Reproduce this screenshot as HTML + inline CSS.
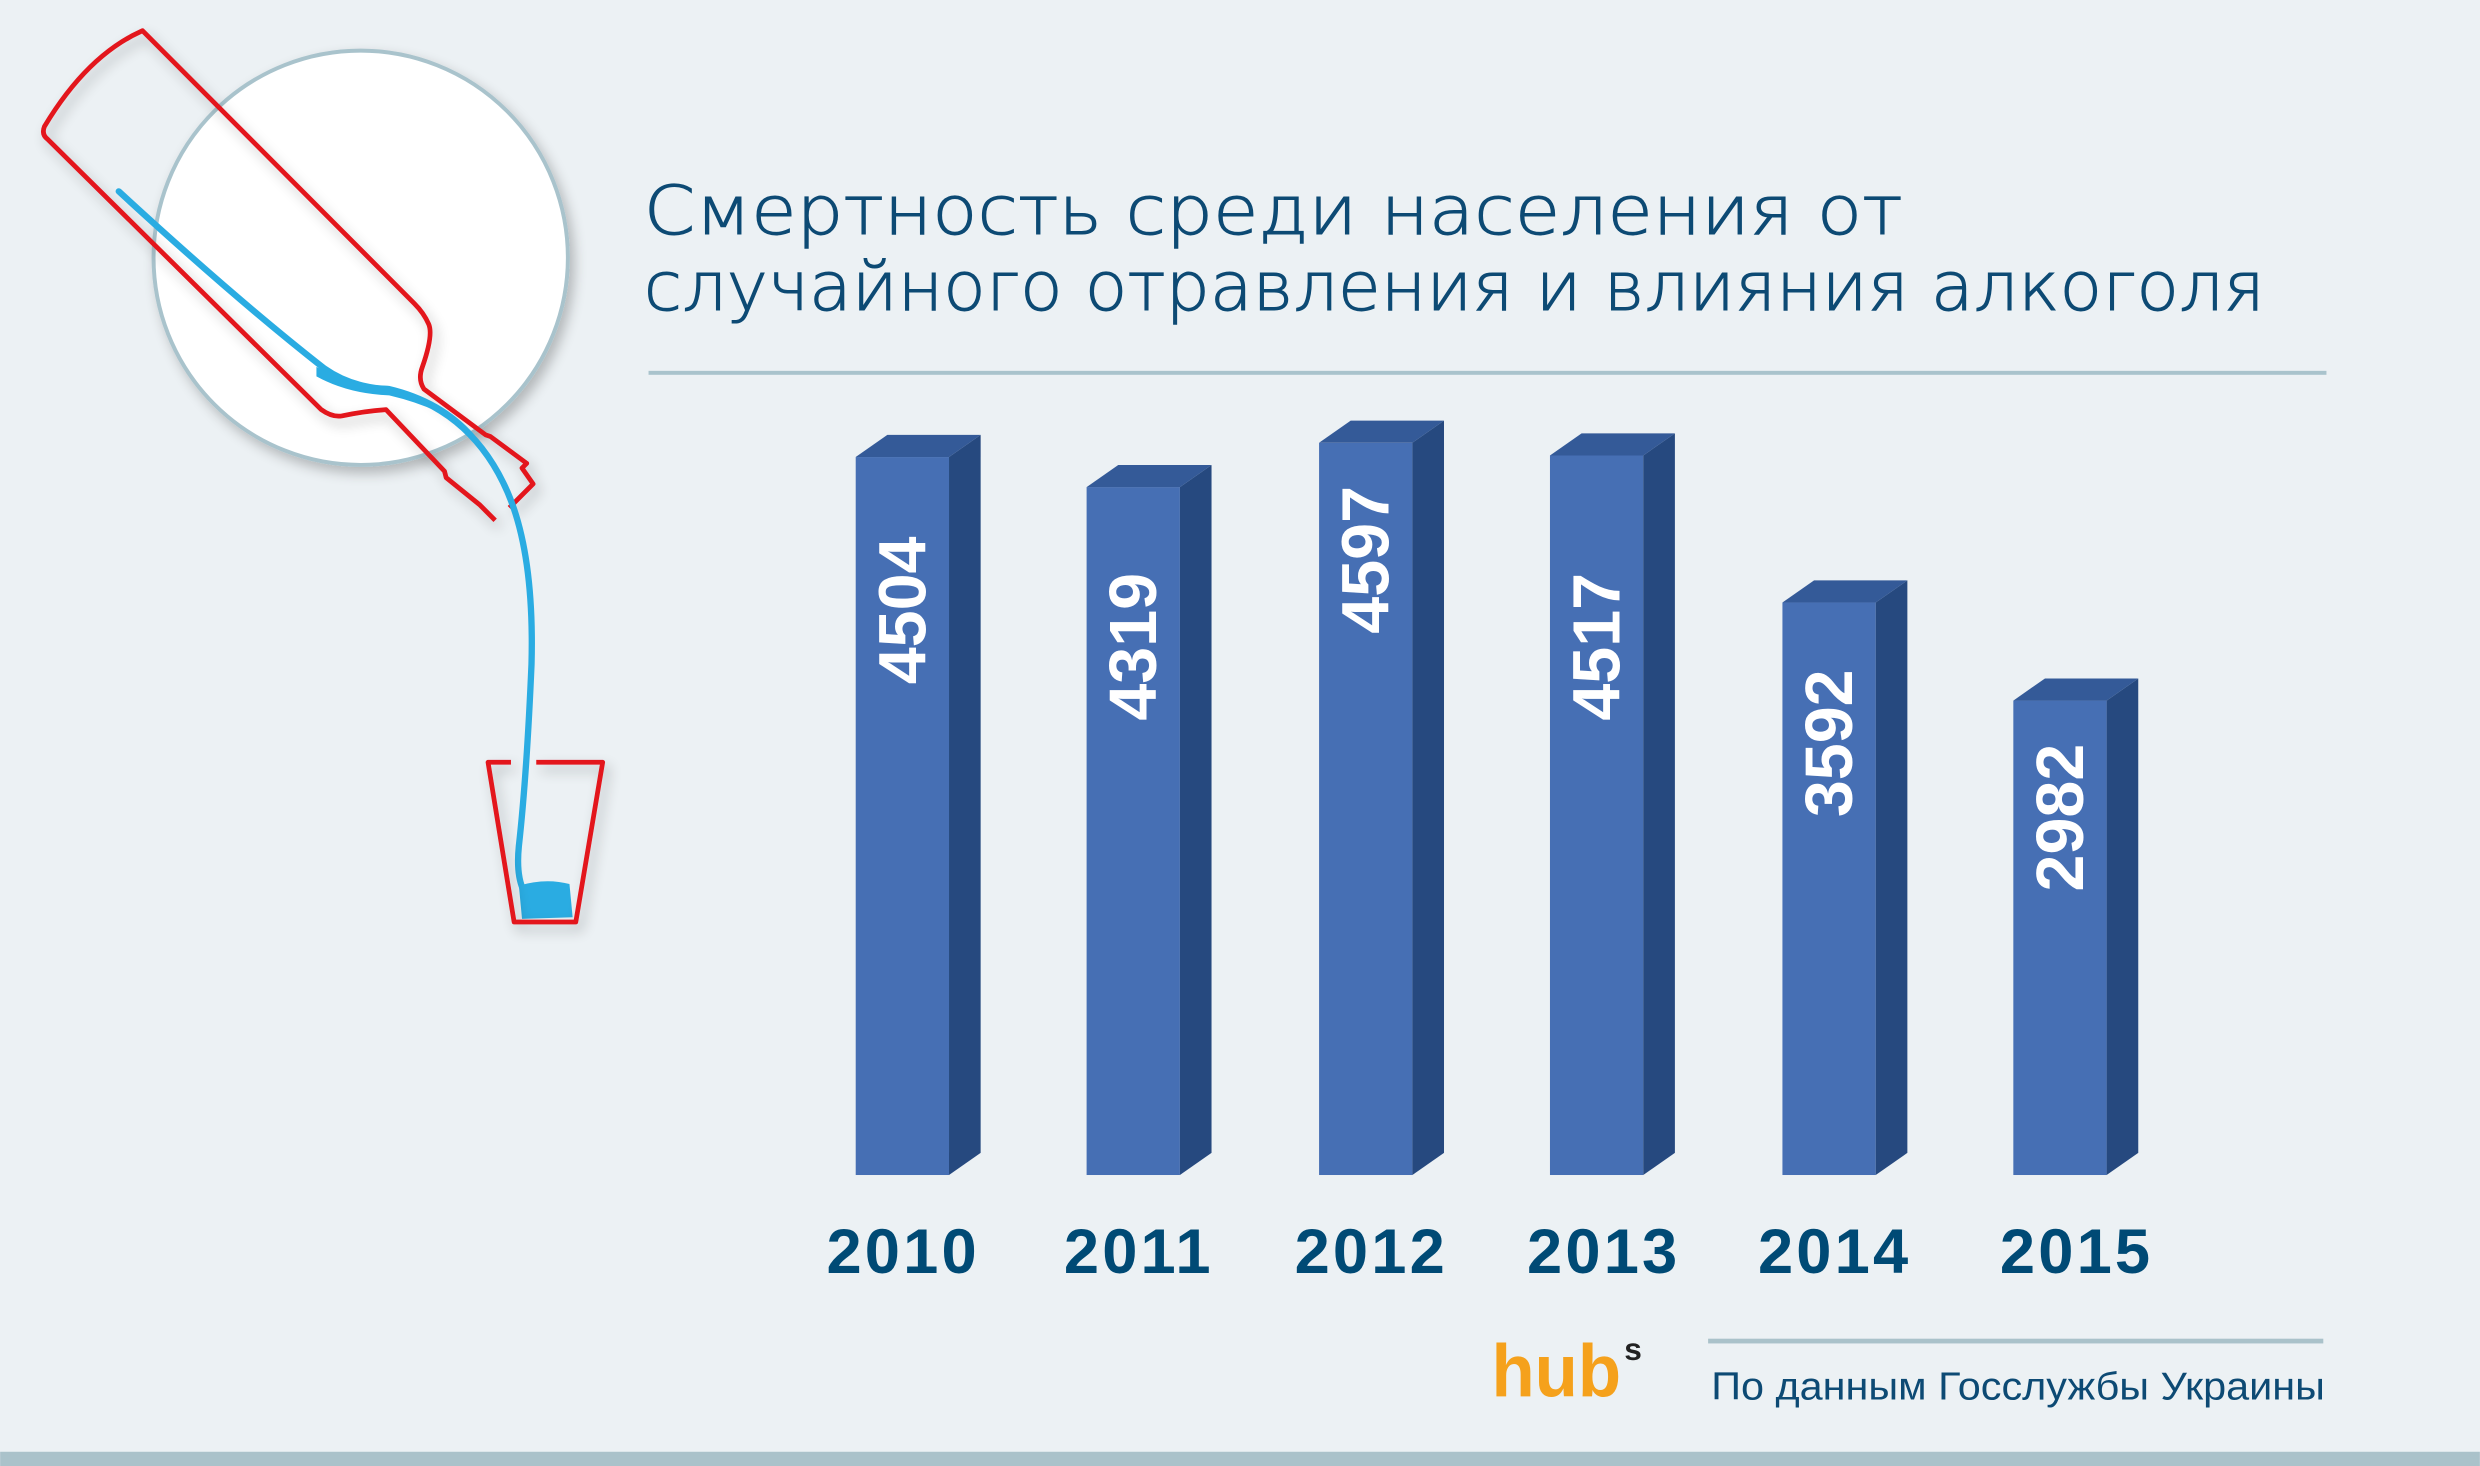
<!DOCTYPE html>
<html><head><meta charset="utf-8"><style>
html,body{margin:0;padding:0;background:#ecf1f4;}
svg{display:block;}
</style></head><body>
<svg width="2480" height="1466" viewBox="0 0 1568 927" xmlns="http://www.w3.org/2000/svg">
<defs>
<filter id="sh" x="-20%" y="-20%" width="140%" height="140%"><feGaussianBlur in="SourceAlpha" stdDeviation="4"/><feOffset dx="3" dy="4"/><feComponentTransfer><feFuncA type="linear" slope="0.25"/></feComponentTransfer><feMerge><feMergeNode/><feMergeNode in="SourceGraphic"/></feMerge></filter>
</defs>
<rect width="1568" height="927" fill="#ecf1f4"/>
<rect y="918" width="1568" height="9" fill="#aac2ca"/>
<!-- circle -->
<circle cx="228" cy="163" r="131" fill="#ffffff" stroke="#a9c3cc" stroke-width="2.5" filter="url(#sh)"/>
<!-- bottle -->
<g filter="url(#sh)" fill="none" stroke="#e3121b" stroke-width="3" stroke-linejoin="round">
<path d="M322,321 L337,306 L330,296 L333,293 L310,276 L307,275 L268,246 Q264,240 267,232 Q274,212 271,205 Q268,198 262,192 L90,19.4 Q55,35 28,80 Q26,85 30,88 L203,259 Q210,264 216,263 Q230,260 244,259 L281,298 L282,302 L303,319 L313,329"/>
</g>
<!-- stream -->
<path d="M75,121 Q150,190 205,233 Q222,245 245,246 Q295,258 318,305 Q338,345 336,420 Q333,490 328,535 Q326,555 332,565" fill="none" stroke="#2aace2" stroke-width="4" stroke-linecap="round"/>
<path d="M200,232 Q222,244 246,244 Q280,252 300,275 Q280,258 246,250 Q220,249 200,238 Z" fill="#2aace2"/>
<path d="M328,560 Q345,555 360,559 L362,580 L330,581 Z" fill="#2aace2"/>
<!-- glass -->
<path d="M323,482 L308.5,482 L325,583 L364,583 L381,482 L339,482" fill="none" stroke="#e3121b" stroke-width="3" stroke-linejoin="round" filter="url(#sh)"/>
<!-- title -->
<g font-family="'DejaVu Sans','Liberation Sans',sans-serif" font-weight="200" fill="#0d4a74" font-size="43" stroke="#0d4a74" stroke-width="0.6">
<text x="407" y="148" textLength="796" lengthAdjust="spacingAndGlyphs">Смертность среди населения от</text>
<text x="407" y="196" textLength="1025" lengthAdjust="spacingAndGlyphs">случайного отравления и влияния алкоголя</text>
</g>
<rect x="410" y="234.5" width="1061" height="2.5" fill="#a9c3cc"/>
<!-- bars -->
<g>
<g transform="translate(541,0)"><rect x="0" y="289" width="59" height="454" fill="#466fb4"/><polygon points="59,289 79,275 79,729 59,743" fill="#26497f"/><polygon points="0,289 20,275 79,275 59,289" fill="#345a98"/></g>
<g transform="translate(687,0)"><rect x="0" y="308" width="59" height="435" fill="#466fb4"/><polygon points="59,308 79,294 79,729 59,743" fill="#26497f"/><polygon points="0,308 20,294 79,294 59,308" fill="#345a98"/></g>
<g transform="translate(834,0)"><rect x="0" y="280" width="59" height="463" fill="#466fb4"/><polygon points="59,280 79,266 79,729 59,743" fill="#26497f"/><polygon points="0,280 20,266 79,266 59,280" fill="#345a98"/></g>
<g transform="translate(980,0)"><rect x="0" y="288" width="59" height="455" fill="#466fb4"/><polygon points="59,288 79,274 79,729 59,743" fill="#26497f"/><polygon points="0,288 20,274 79,274 59,288" fill="#345a98"/></g>
<g transform="translate(1127,0)"><rect x="0" y="381" width="59" height="362" fill="#466fb4"/><polygon points="59,381 79,367 79,729 59,743" fill="#26497f"/><polygon points="0,381 20,367 79,367 59,381" fill="#345a98"/></g>
<g transform="translate(1273,0)"><rect x="0" y="443" width="59" height="300" fill="#466fb4"/><polygon points="59,443 79,429 79,729 59,743" fill="#26497f"/><polygon points="0,443 20,429 79,429 59,443" fill="#345a98"/></g>
</g>
<g font-family="'Liberation Sans',sans-serif" font-weight="bold" font-size="42" fill="#ffffff" text-anchor="middle">
<text transform="translate(585,386) rotate(-90)">4504</text>
<text transform="translate(731,409) rotate(-90)">4319</text>
<text transform="translate(878,354) rotate(-90)">4597</text>
<text transform="translate(1024,409) rotate(-90)">4517</text>
<text transform="translate(1171,470) rotate(-90)">3592</text>
<text transform="translate(1317,517) rotate(-90)">2982</text>
</g>
<g font-family="'Liberation Sans',sans-serif" font-weight="bold" font-size="40" fill="#004a75" text-anchor="middle" letter-spacing="2">
<text x="571" y="805">2010</text>
<text x="720" y="805">2011</text>
<text x="867" y="805">2012</text>
<text x="1014" y="805">2013</text>
<text x="1160" y="805">2014</text>
<text x="1313" y="805">2015</text>
</g>
<!-- footer -->
<rect x="1080" y="846.5" width="389" height="3" fill="#aac2ca"/>
<text x="1082" y="885" font-family="'Liberation Sans',sans-serif" font-size="24.5" fill="#0d4a74" textLength="388" lengthAdjust="spacingAndGlyphs">По данным Госслужбы Украины</text>
<text x="943" y="883" font-family="'Liberation Sans',sans-serif" font-weight="bold" font-size="47" fill="#f5a11c" textLength="82" lengthAdjust="spacingAndGlyphs">hub</text>
<text x="1027" y="860" font-family="'Liberation Sans',sans-serif" font-weight="bold" font-size="20" fill="#222">s</text>
</svg>
</body></html>
